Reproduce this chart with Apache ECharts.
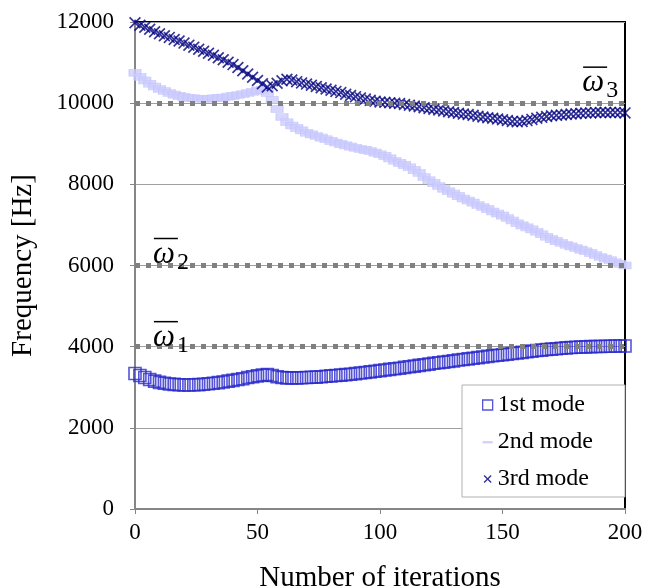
<!DOCTYPE html>
<html><head><meta charset="utf-8">
<script src="https://cdn.jsdelivr.net/npm/echarts@6/dist/echarts.min.js"></script>
<style>html,body{margin:0;padding:0;background:#fff}#c{width:645px;height:587px}</style>
</head><body><div id="c"></div><script>
// iterations sampled every 2 iterations (0..200)
const iterStep = 2;
const mode1 = [3340,3290,3240,3190,3150,3120,3100,3080,3070,3060,3055,3055,3060,3065,3075,3085,3100,3115,3130,3150,
3170,3190,3210,3240,3260,3280,3300,3310,3290,3260,3240,3230,3230,3230,3235,3240,3245,3250,3260,3270,
3280,3290,3300,3310,3320,3335,3350,3365,3380,3395,3410,3425,3440,3455,3470,3490,3505,3520,3540,3555,
3570,3590,3605,3620,3635,3650,3670,3685,3700,3715,3730,3745,3760,3775,3790,3800,3815,3830,3845,3860,
3875,3890,3905,3915,3930,3940,3950,3960,3970,3980,3985,3990,3995,4000,4005,4005,4010,4010,4015,4015,4015];
const mode2 = [10750,10650,10560,10480,10410,10350,10300,10250,10210,10180,10150,10130,10120,10110,10110,10110,10120,10130,10140,10160,
10180,10200,10220,10250,10280,10310,10330,10250,10080,9860,9660,9530,9450,9390,9330,9270,9230,9190,9150,9110,
9070,9030,8990,8960,8930,8900,8870,8850,8820,8780,8740,8700,8640,8580,8530,8480,8420,8350,8280,8180,
8100,8030,7960,7890,7830,7770,7710,7650,7600,7550,7490,7440,7390,7330,7280,7230,7170,7110,7040,6990,
6940,6890,6830,6770,6710,6650,6600,6560,6510,6470,6430,6390,6350,6310,6260,6210,6170,6130,6080,6040,6000];
const mode3 = [11980,11920,11870,11820,11760,11710,11660,11620,11570,11530,11480,11430,11380,11330,11280,11230,11180,11120,11070,11010,
10950,10880,10800,10720,10640,10560,10480,10400,10430,10490,10550,10590,10570,10530,10500,10470,10440,10410,10380,10350,
10320,10290,10260,10220,10190,10160,10130,10100,10070,10050,10030,10020,10010,10000,9990,9970,9950,9930,9910,9890,
9870,9850,9830,9810,9790,9770,9750,9730,9720,9700,9680,9660,9640,9630,9610,9590,9570,9550,9540,9550,
9570,9600,9630,9650,9670,9690,9700,9710,9720,9730,9740,9750,9760,9760,9770,9770,9770,9770,9770,9770,9760];
const seriesNames = ['1st mode','2nd mode','3rd mode'];
const targetFreqs = [4000, 6000, 10000];
const targetSubs = ['1','2','3'];
const targetLabelIter = [7.3, 7.3, 182.5];

const FONT = '"Liberation Serif", "Times New Roman", serif';
function pairs(vals){ return vals.map((v,i)=>[i*iterStep, v]); }

const chart = echarts.init(document.getElementById('c'), null, {renderer:'canvas'});
const XPATH = 'path://M0,1L1,0L5,4L9,0L10,1L6,5L10,9L9,10L5,6L1,10L0,9L4,5Z';
const option = {
  animation: false,
  backgroundColor: '#fff',
  textStyle: {fontFamily: FONT},
  grid: {left:135, right:20, top:22, bottom:78, outerBoundsMode:'none', containLabel:false,
         show:true, borderColor:'#000', borderWidth:2, backgroundColor:'transparent'},
  xAxis: {
    type:'value', min:0, max:200, interval:50,
    name:'Number of iterations', nameLocation:'middle', nameGap:55,
    nameTextStyle:{fontFamily:FONT, fontSize:29, color:'#000'},
    axisLine:{lineStyle:{color:'#868686', width:2}},
    axisTick:{show:true, length:5, lineStyle:{color:'#868686'}},
    axisLabel:{fontFamily:FONT, fontSize:23, color:'#000', margin:12},
    splitLine:{show:false}
  },
  yAxis: {
    type:'value', min:0, max:12000, interval:2000,
    name:'Frequency [Hz]', nameLocation:'middle', nameGap:97,
    nameTextStyle:{fontFamily:FONT, fontSize:29, color:'#000'},
    axisLine:{show:true, lineStyle:{color:'#868686', width:2}},
    axisTick:{show:true, length:5, lineStyle:{color:'#868686'}},
    axisLabel:{fontFamily:FONT, fontSize:23, color:'#000', margin:21, formatter: v => String(v)},
    splitLine:{show:true, lineStyle:{color:'#a0a0a0', width:1.2}}
  },
  legend: {
    orient:'vertical', left:462, top:385,
    backgroundColor:'#fff', borderColor:'#b0b0b0', borderWidth:1,
    padding:[7,32,5,20], itemGap:11, itemWidth:10, itemHeight:10,
    textStyle:{fontFamily:FONT, fontSize:24, color:'#000', lineHeight:26},
    data:[
      {name:seriesNames[0], icon:'rect', itemStyle:{color:'rgba(0,0,0,0)', borderColor:'#2b2bcc', borderWidth:1.3}},
      {name:seriesNames[1], icon:'path://M0,0M0,4L10,4L10,6.5L0,6.5ZM10,10', itemStyle:{color:'#c8c8ff', borderWidth:0}},
      {name:seriesNames[2], icon:'path://M0,0M1,2L2,1L5,4L8,1L9,2L6,5L9,8L8,9L5,6L2,9L1,8L4,5ZM10,10', itemStyle:{color:'#000080', borderWidth:0}}
    ]
  },
  series: [
    {name:seriesNames[0], type:'scatter', data:pairs(mode1), symbol:'rect', symbolSize:12, z:2,
     itemStyle:{color:'rgba(0,0,0,0)', borderColor:'#2b2bcc', borderWidth:1.6}},
    {name:seriesNames[1], type:'scatter', data:pairs(mode2), symbol:'rect', symbolSize:[12,7], z:3,
     itemStyle:{color:'#ccccff', borderColor:'#c4c4fb', borderWidth:0.8}},
    {name:seriesNames[2], type:'scatter', data:pairs(mode3), symbol:XPATH, symbolSize:12, z:4,
     itemStyle:{color:'#000080'}},
    {name:'targets', type:'line', data:[], z:10, silent:true,
     markLine:{silent:true, symbol:'none', label:{show:false},
       lineStyle:{color:'#808080', width:5, type:[5,6]},
       data: targetFreqs.map(f=>({yAxis:f}))}}
  ]
};
chart.setOption(option);

// Overlined omega labels for the target frequencies
const g = [];
targetFreqs.forEach((f,i)=>{
  const p = chart.convertToPixel({xAxisIndex:0, yAxisIndex:0}, [targetLabelIter[i], f]);
  const dy = i===2 ? -10 : (i===1 ? -1 : 1);
  const base = p[1] + dy;
  g.push({type:'text', z:20, style:{text:'ω', x:p[0], y:base-10, font:'italic 31px '+FONT, fill:'#000', verticalAlign:'middle', align:'left'}});
  g.push({type:'text', z:20, style:{text:targetSubs[i], x:p[0]+24, y:base-2, font:'24px '+FONT, fill:'#000', verticalAlign:'middle', align:'left'}});
  g.push({type:'line', z:20, shape:{x1:p[0]+1, y1:base-26, x2:p[0]+25, y2:base-26}, style:{stroke:'#000', lineWidth:1.5}});
});
chart.setOption({graphic: g});
</script></body></html>
